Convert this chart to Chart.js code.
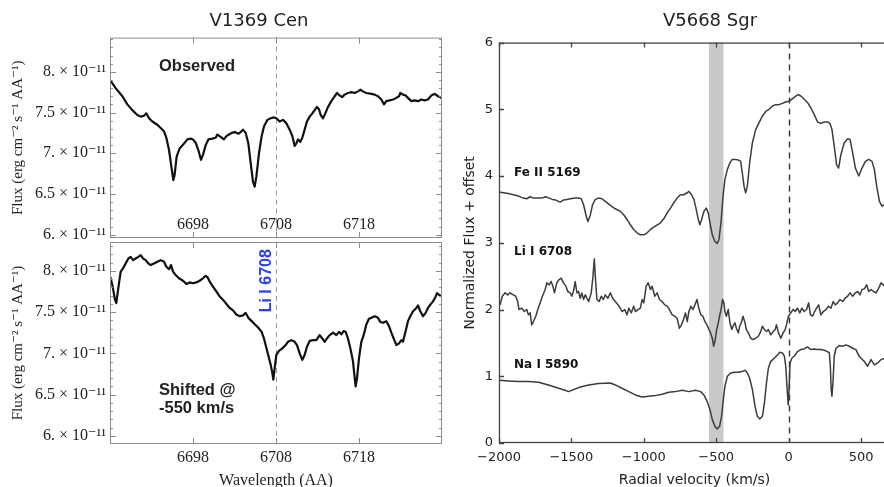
<!DOCTYPE html>
<html>
<head>
<meta charset="utf-8">
<script src="https://cdn.jsdelivr.net/npm/chart.js@4.4.1/dist/chart.umd.min.js"></script>
<style>
  html, body { margin: 0; padding: 0; background: #fff; overflow: hidden; width: 884px; height: 487px; }
  canvas { position: absolute; }
  #topChart { left: 0; top: 0; }
  #bottomChart { left: 0; top: 240px; }
  #rightChart { left: 450px; top: 0; }
</style>
</head>
<body>
<canvas id="topChart" width="518" height="240"></canvas>
<canvas id="bottomChart" width="450" height="260"></canvas>
<canvas id="rightChart" width="520" height="500"></canvas>
<script>
// ---- V1369 Cen, observed spectrum (flux in units of 1e-11) ----
const obsWave = [
  6688.08, 6688.68, 6689.49, 6690.09, 6690.69, 6691.29, 6691.70, 6692.10, 6692.38, 6692.70,
  6693.10, 6693.70, 6694.11, 6694.51, 6694.79, 6695.11, 6695.39, 6695.63, 6695.79, 6696.03,
  6696.39, 6696.92, 6697.32, 6697.72, 6698.00, 6698.32, 6698.64, 6698.96, 6699.20, 6699.53,
  6699.85, 6700.33, 6700.73, 6700.93, 6701.33, 6701.73, 6702.02, 6702.34, 6702.66, 6703.06,
  6703.46, 6703.74, 6704.02, 6704.35, 6704.67, 6704.95, 6705.23, 6705.43, 6705.63, 6705.95,
  6706.27, 6706.55, 6706.96, 6707.36, 6707.76, 6708.04, 6708.44, 6708.84, 6709.24, 6709.65,
  6709.97, 6710.25, 6710.45, 6710.65, 6710.93, 6711.17, 6711.45, 6711.73, 6712.06, 6712.38,
  6712.66, 6712.94, 6713.18, 6713.38, 6713.66, 6713.94, 6714.27, 6714.67, 6715.07, 6715.35,
  6715.67, 6715.99, 6716.27, 6716.67, 6717.08, 6717.48, 6717.88, 6718.16, 6718.48, 6718.88,
  6719.49, 6719.89, 6720.29, 6720.69, 6721.01, 6721.29, 6721.69, 6722.10, 6722.50, 6722.82,
  6722.98, 6723.30, 6723.62, 6723.90, 6724.30, 6724.71, 6725.11, 6725.51, 6725.91, 6726.31,
  6726.71, 6727.12, 6727.52, 6727.92, 6728.20
];
const obsFlux = [
  7.89, 7.80, 7.70, 7.60, 7.53, 7.47, 7.45, 7.46, 7.49, 7.43,
  7.39, 7.35, 7.31, 7.27, 7.19, 7.04, 6.84, 6.67, 6.74, 6.96,
  7.06, 7.12, 7.17, 7.18, 7.17, 7.13, 7.04, 6.92, 6.98, 7.10,
  7.17, 7.18, 7.19, 7.23, 7.20, 7.17, 7.21, 7.23, 7.25, 7.26,
  7.24, 7.26, 7.29, 7.25, 7.12, 6.88, 6.65, 6.59, 6.71, 7.00,
  7.21, 7.33, 7.41, 7.43, 7.44, 7.43, 7.39, 7.41, 7.37, 7.29,
  7.21, 7.09, 7.12, 7.17, 7.14, 7.19, 7.29, 7.39, 7.45, 7.49,
  7.53, 7.57, 7.54, 7.47, 7.43, 7.49, 7.57, 7.64, 7.70, 7.74,
  7.71, 7.69, 7.72, 7.74, 7.75, 7.74, 7.76, 7.78, 7.76, 7.74,
  7.73, 7.72, 7.70, 7.66, 7.60, 7.64, 7.65, 7.66, 7.68, 7.70,
  7.74, 7.72, 7.71, 7.68, 7.64, 7.65, 7.64, 7.66, 7.65, 7.66,
  7.71, 7.73, 7.70, 7.68, 7.62
];

// ---- V1369 Cen, shifted by -550 km/s ----
const shiftWave = [
  6687.96, 6688.28, 6688.60, 6688.76, 6689.00, 6689.29, 6689.57, 6689.89, 6690.21, 6690.49,
  6690.77, 6691.09, 6691.41, 6691.70, 6691.98, 6692.30, 6692.62, 6692.90, 6693.30, 6693.70,
  6694.11, 6694.51, 6694.79, 6695.11, 6695.35, 6695.59, 6695.91, 6696.31, 6696.80, 6697.20,
  6697.60, 6698.00, 6698.40, 6698.80, 6699.20, 6699.53, 6699.77, 6700.01, 6700.41, 6700.81,
  6701.21, 6701.61, 6702.02, 6702.42, 6702.82, 6703.22, 6703.62, 6704.02, 6704.35, 6704.67,
  6705.07, 6705.47, 6705.87, 6706.27, 6706.55, 6706.96, 6707.36, 6707.56, 6707.68, 6707.84,
  6708.04, 6708.36, 6708.76, 6709.16, 6709.45, 6709.85, 6710.25, 6710.53, 6710.85, 6711.17,
  6711.45, 6711.73, 6712.06, 6712.46, 6712.86, 6713.26, 6713.58, 6713.86, 6714.14, 6714.47,
  6714.87, 6715.27, 6715.59, 6715.87, 6716.15, 6716.39, 6716.67, 6716.96, 6717.28, 6717.48,
  6717.60, 6717.76, 6718.00, 6718.28, 6718.56, 6718.88, 6719.20, 6719.49, 6719.89, 6720.29,
  6720.57, 6720.89, 6721.29, 6721.61, 6721.90, 6722.18, 6722.50, 6722.82, 6723.10, 6723.30,
  6723.62, 6723.90, 6724.18, 6724.51, 6724.83, 6725.11, 6725.39, 6725.71, 6726.03, 6726.31,
  6726.59, 6726.92, 6727.24, 6727.40, 6727.64, 6727.92, 6728.20
];
const shiftFlux = [
  7.95, 7.83, 7.65, 7.61, 7.79, 7.99, 8.03, 8.09, 8.15, 8.17,
  8.13, 8.15, 8.17, 8.19, 8.15, 8.13, 8.09, 8.07, 8.09, 8.11,
  8.13, 8.11, 8.05, 8.02, 8.07, 7.99, 7.95, 7.91, 7.88, 7.84,
  7.86, 7.85, 7.86, 7.88, 7.91, 7.94, 7.92, 7.87, 7.81, 7.75,
  7.69, 7.65, 7.60, 7.55, 7.52, 7.47, 7.45, 7.46, 7.49, 7.43,
  7.39, 7.35, 7.31, 7.26, 7.18, 7.02, 6.86, 6.76, 6.68, 6.82,
  6.98, 7.03, 7.06, 7.10, 7.14, 7.16, 7.14, 7.10, 7.00, 6.92,
  6.98, 7.08, 7.15, 7.16, 7.16, 7.22, 7.18, 7.14, 7.18, 7.22,
  7.25, 7.22, 7.26, 7.23, 7.27, 7.26, 7.18, 7.06, 6.90, 6.70,
  6.60, 6.70, 6.94, 7.14, 7.22, 7.35, 7.42, 7.43, 7.45, 7.43,
  7.38, 7.37, 7.39, 7.33, 7.25, 7.18, 7.10, 7.12, 7.16, 7.14,
  7.27, 7.39, 7.45, 7.51, 7.54, 7.58, 7.51, 7.45, 7.49, 7.55,
  7.59, 7.63, 7.69, 7.73, 7.71, 7.69, 7.67
];

// ---- V5668 Sgr, normalized flux + offset vs radial velocity ----
const feVel = [
  -2000, -1970, -1935, -1901, -1866, -1832, -1808, -1785, -1762, -1739,
  -1705, -1677, -1654, -1631, -1608, -1578, -1555, -1531, -1508, -1474,
  -1451, -1432, -1416, -1400, -1386, -1370, -1354, -1335, -1312, -1289,
  -1266, -1231, -1197, -1162, -1139, -1116, -1093, -1070, -1047, -1024,
  -1000, -977, -954, -920, -885, -862, -839, -816, -793, -770,
  -747, -724, -700, -689, -670, -654, -638, -624, -613, -601,
  -585, -569, -555, -543, -527, -509, -493, -481, -467, -453,
  -440, -423, -405, -389, -370, -347, -331, -320, -308, -297,
  -285, -269, -250, -227, -204, -181, -158, -135, -112, -89,
  -66, -43, -20, 4, 27, 50, 68, 84, 108, 131,
  154, 177, 200, 223, 246, 269, 285, 299, 315, 331,
  345, 361, 384, 408, 424, 442, 461, 484, 507, 530,
  553, 576, 592, 608, 627, 645, 661
];
const feFlux = [
  3.76, 3.75, 3.74, 3.72, 3.70, 3.67, 3.66, 3.69, 3.67, 3.67,
  3.67, 3.69, 3.67, 3.65, 3.64, 3.61, 3.64, 3.65, 3.66, 3.67,
  3.67, 3.66, 3.57, 3.42, 3.32, 3.41, 3.57, 3.65, 3.67, 3.66,
  3.62, 3.56, 3.51, 3.47, 3.42, 3.35, 3.27, 3.20, 3.15, 3.12,
  3.12, 3.15, 3.20, 3.25, 3.30, 3.36, 3.45, 3.52, 3.60, 3.67,
  3.72, 3.72, 3.75, 3.77, 3.72, 3.65, 3.50, 3.35, 3.27, 3.35,
  3.47, 3.52, 3.45, 3.30, 3.12, 3.02, 2.99, 3.05, 3.30, 3.70,
  3.95, 4.10, 4.20, 4.25, 4.25, 4.24, 4.22, 4.05, 3.85, 3.75,
  3.85, 4.20, 4.50, 4.70, 4.80, 4.90, 4.97, 5.00, 5.05, 5.07,
  5.07, 5.09, 5.11, 5.12, 5.16, 5.20, 5.22, 5.20, 5.15, 5.10,
  5.02, 4.92, 4.81, 4.79, 4.81, 4.81, 4.79, 4.70, 4.45, 4.17,
  4.12, 4.32, 4.50, 4.56, 4.55, 4.35, 4.12, 4.00, 4.12, 4.22,
  4.25, 4.22, 4.10, 3.85, 3.62, 3.55, 3.57
];
const liVel = [
  -1993, -1977, -1958, -1940, -1924, -1901, -1885, -1871, -1862, -1843,
  -1825, -1808, -1797, -1785, -1774, -1762, -1746, -1732, -1716, -1700,
  -1681, -1670, -1654, -1640, -1628, -1617, -1601, -1585, -1571, -1555,
  -1538, -1525, -1508, -1497, -1483, -1474, -1462, -1451, -1439, -1428,
  -1416, -1404, -1393, -1381, -1363, -1351, -1342, -1335, -1324, -1308,
  -1294, -1280, -1266, -1248, -1231, -1215, -1197, -1178, -1162, -1151,
  -1132, -1116, -1104, -1086, -1070, -1058, -1040, -1024, -1012, -1000,
  -984, -970, -954, -943, -924, -908, -892, -874, -855, -839,
  -823, -804, -786, -770, -754, -740, -726, -712, -700, -689,
  -675, -661, -647, -633, -620, -606, -592, -578, -564, -550,
  -539, -527, -518, -509, -497, -486, -477, -465, -456, -447,
  -440, -430, -417, -405, -393, -384, -370, -361, -347, -338,
  -324, -315, -301, -292, -278, -262, -246, -227, -209, -193,
  -181, -167, -153, -140, -123, -107, -93, -84, -70, -54,
  -38, -24, -15, -1, 15, 31, 45, 61, 77, 91,
  107, 124, 138, 151, 165, 179, 193, 207, 223, 239,
  258, 276, 292, 308, 322, 338, 355, 373, 391, 408,
  424, 442, 461, 477, 493, 507, 523, 539, 553, 569,
  585, 604, 622, 638, 654, 664
];
const liFlux = [
  2.07, 2.20, 2.25, 2.22, 2.25, 2.22, 2.20, 2.12, 2.00, 2.02,
  1.97, 2.00, 1.92, 1.95, 1.77, 1.82, 1.90, 2.00, 2.10, 2.20,
  2.30, 2.40, 2.37, 2.42, 2.35, 2.25, 2.40, 2.45, 2.47, 2.40,
  2.35, 2.27, 2.25, 2.20, 2.30, 2.42, 2.25, 2.27, 2.17, 2.25,
  2.15, 2.22, 2.17, 2.12, 2.25, 2.50, 2.76, 2.50, 2.15, 2.12,
  2.20, 2.15, 2.22, 2.17, 2.25, 2.17, 2.12, 2.07, 2.02, 1.97,
  2.00, 1.92, 2.02, 1.95, 2.05, 1.97, 2.00, 2.02, 2.15, 2.10,
  2.35, 2.40, 2.30, 2.35, 2.20, 2.25, 2.15, 2.12, 2.07, 2.05,
  2.00, 1.92, 1.90, 1.87, 1.72, 1.77, 1.85, 1.95, 1.82, 1.97,
  2.05, 2.00, 2.07, 2.15, 2.02, 1.92, 1.90, 1.82, 1.77, 1.70,
  1.65, 1.57, 1.45, 1.52, 1.70, 1.80, 1.90, 2.02, 2.15, 2.10,
  1.97, 1.90, 2.00, 1.80, 1.70, 1.75, 1.80, 1.72, 1.65, 1.75,
  1.82, 1.90, 1.80, 1.70, 1.65, 1.57, 1.55, 1.57, 1.60, 1.67,
  1.75, 1.70, 1.67, 1.70, 1.62, 1.67, 1.70, 1.77, 1.65, 1.57,
  1.65, 1.70, 1.77, 1.90, 1.95, 2.00, 1.97, 2.02, 1.95, 2.02,
  1.97, 2.00, 2.10, 1.92, 1.90, 1.97, 2.02, 2.07, 1.92, 1.97,
  2.00, 2.05, 2.02, 2.12, 2.07, 2.10, 2.15, 2.12, 2.17, 2.20,
  2.25, 2.20, 2.25, 2.27, 2.22, 2.30, 2.31, 2.37, 2.27, 2.30,
  2.27, 2.25, 2.32, 2.40, 2.37, 2.35
];
const naVel = [
  -1993, -1935, -1866, -1797, -1728, -1658, -1589, -1543, -1520, -1485,
  -1439, -1381, -1312, -1231, -1197, -1151, -1104, -1058, -1012, -966,
  -920, -874, -827, -781, -735, -689, -643, -608, -585, -562,
  -543, -527, -509, -493, -477, -463, -451, -440, -423, -400,
  -377, -347, -324, -301, -285, -269, -250, -232, -216, -199,
  -181, -167, -153, -140, -124, -100, -77, -61, -43, -29,
  -20, -10, -3, 3, 10, 22, 38, 61, 84, 107,
  130, 153, 177, 200, 223, 246, 269, 281, 288, 294,
  299, 306, 315, 327, 350, 373, 396, 419, 442, 465,
  484, 500, 523, 546, 569, 592, 615, 638, 664
];
const naFlux = [
  0.94, 0.93, 0.92, 0.92, 0.91, 0.87, 0.82, 0.79, 0.77, 0.80,
  0.84, 0.87, 0.89, 0.90, 0.87, 0.82, 0.77, 0.72, 0.69, 0.70,
  0.71, 0.73, 0.76, 0.77, 0.79, 0.77, 0.79, 0.77, 0.72, 0.62,
  0.50, 0.35, 0.25, 0.21, 0.25, 0.40, 0.65, 0.85, 1.00, 1.05,
  1.06, 1.06, 1.07, 1.09, 1.05, 0.97, 0.80, 0.55, 0.40, 0.36,
  0.40, 0.60, 0.90, 1.12, 1.22, 1.27, 1.32, 1.36, 1.35, 1.30,
  1.15, 0.80, 0.57, 0.80, 1.20, 1.27, 1.30, 1.37, 1.40, 1.41,
  1.44, 1.40, 1.41, 1.40, 1.40, 1.39, 1.37, 1.35, 1.15, 0.80,
  0.70, 0.90, 1.30, 1.42, 1.46, 1.45, 1.47, 1.45, 1.42, 1.40,
  1.31, 1.27, 1.22, 1.15, 1.25, 1.17, 1.20, 1.25, 1.27
];

// ---- ticks and markers ----
const waveTicks = [6698, 6708, 6718];
const fluxTicks = [6, 6.5, 7, 7.5, 8];
const fluxMinor = [6.1, 6.2, 6.3, 6.4, 6.6, 6.7, 6.8, 6.9, 7.1, 7.2, 7.3, 7.4, 7.6, 7.7, 7.8, 7.9, 8.1, 8.2, 8.3, 8.4];
const velTicks = [-2000, -1500, -1000, -500, 0, 500];
const normTicks = [0, 1, 2, 3, 4, 5, 6];
const liLine = 6708;
const shiftBand = [-550, -450];

const serif = "'Liberation Serif', 'DejaVu Serif', serif";
const sans = "'DejaVu Sans', sans-serif";
const boldSans = "'Liberation Sans', Arial, sans-serif";
Chart.defaults.font.family = sans;
Chart.defaults.color = '#222';

const pts = (xs, ys) => xs.map((v, i) => ({x: v, y: ys[i]}));
const fluxLabel = v => (Number.isInteger(v) ? v + '.' : String(v)) + ' \u00d7 10\u207b\u00b9\u00b9';
const setTicks = list => s => { s.ticks = list.map(v => ({value: v})); };
// fixed axis sizes, and no extra room for end labels
const fixWidth = w => s => { s.width = w; s.paddingTop = 0; s.paddingBottom = 0; };
const fixHeight = h => s => { s.height = h; s.paddingLeft = 0; s.paddingRight = 0; };
// empty right-hand axis that only reserves space
const spacer = w => ({
  position: 'right', display: true, afterFit: fixWidth(w),
  ticks: { display: false }, grid: { display: false, drawTicks: false }, border: { display: false }
});

function framePlugin(o) {
  return {
    id: 'frame',
    beforeDatasetsDraw(chart) {
      const {ctx, chartArea: a, scales: {x}} = chart;
      ctx.save();
      if (o.band) {
        const x0 = x.getPixelForValue(o.band[0]), x1 = x.getPixelForValue(o.band[1]);
        ctx.fillStyle = o.bandColor;
        ctx.fillRect(x0, a.top, x1 - x0, a.bottom - a.top);
      }
      if (o.marker !== undefined) {
        const px = Math.round(x.getPixelForValue(o.marker)) + 0.5;
        ctx.strokeStyle = o.markerColor;
        ctx.lineWidth = o.markerWidth;
        ctx.setLineDash(o.markerDash);
        ctx.beginPath();
        ctx.moveTo(px, a.top);
        ctx.lineTo(px, a.bottom);
        ctx.stroke();
      }
      ctx.restore();
    },
    afterDatasetsDraw(chart) {
      const {ctx, chartArea: a, scales: {x, y}} = chart;
      ctx.save();
      ctx.strokeStyle = o.color;
      ctx.lineWidth = o.width;
      ctx.strokeRect(a.left + 0.5, a.top + 0.5, a.right - a.left - 1, a.bottom - a.top - 1);
      ctx.beginPath();
      (o.xTicks || []).forEach(v => {
        const px = Math.round(x.getPixelForValue(v)) + 0.5;
        ctx.moveTo(px, a.bottom); ctx.lineTo(px, a.bottom - o.len);
        ctx.moveTo(px, a.top); ctx.lineTo(px, a.top + o.len);
      });
      const yt = (list, len) => list.forEach(v => {
        const py = Math.round(y.getPixelForValue(v)) + 0.5;
        ctx.moveTo(a.left, py); ctx.lineTo(a.left + len, py);
        ctx.moveTo(a.right, py); ctx.lineTo(a.right - len, py);
      });
      yt(o.yTicks || [], o.len);
      yt(o.yMinor || [], o.len / 2);
      ctx.stroke();
      (o.notes || []).forEach(n => {
        ctx.save();
        ctx.font = n.font;
        ctx.fillStyle = n.color || '#222';
        ctx.textAlign = n.align || 'left';
        ctx.textBaseline = 'middle';
        ctx.translate(x.getPixelForValue(n.x), y.getPixelForValue(n.y));
        if (n.rotate) ctx.rotate(n.rotate);
        ctx.fillText(n.text, 0, 0);
        ctx.restore();
      });
      ctx.restore();
    }
  };
}

const baseOpts = {
  responsive: false,
  animation: false,
  devicePixelRatio: 1,
  elements: { point: { radius: 0 }, line: { tension: 0, borderJoinStyle: 'round' } },
  plugins: { legend: { display: false }, tooltip: { enabled: false } }
};

const fluxAxis = (min, max) => ({
  position: 'left',
  min: min, max: max,
  afterBuildTicks: setTicks(fluxTicks),
  afterFit: fixWidth(110),
  ticks: { font: { family: serif, size: 16 }, color: '#222', padding: 4, callback: fluxLabel },
  grid: { display: false, drawTicks: false },
  border: { display: false },
  title: { display: true, text: 'Flux (erg cm\u207b\u00b2 s\u207b\u00b9 AA\u207b\u00b9)', font: { family: serif, size: 15 }, color: '#222', padding: { top: 9, bottom: 0 } }
});

const leftFrame = extra => Object.assign({
  color: '#8c8c8c', width: 1, len: 6,
  xTicks: waveTicks, yTicks: fluxTicks, yMinor: fluxMinor,
  marker: liLine, markerColor: '#9a9a9a', markerWidth: 1, markerDash: [5, 4]
}, extra);

// top-left: observed
new Chart(document.getElementById('topChart'), {
  type: 'line',
  data: { datasets: [{ data: pts(obsWave, obsFlux), borderColor: '#111', borderWidth: 2.2 }] },
  options: Object.assign({}, baseOpts, {
    layout: { padding: { left: 0, right: 0, top: 0, bottom: 2 } },
    plugins: Object.assign({}, baseOpts.plugins, {
      title: { display: true, text: 'V1369 Cen', font: { family: sans, size: 18, weight: 'normal' }, color: '#222', padding: { top: 11, bottom: 5 } }
    }),
    scales: {
      x: { type: 'linear', min: 6688, max: 6728, display: false },
      y: fluxAxis(5.96, 8.42),
      pad: spacer(76)
    }
  }),
  plugins: [framePlugin(leftFrame({
    notes: [
      { text: 'Observed', x: 6693.9, y: 8.07, font: 'bold 16.5px ' + boldSans, color: '#222' },
      { text: '6698', x: 6698, y: 6.12, font: '16px ' + serif, align: 'center' },
      { text: '6708', x: 6708, y: 6.12, font: '16px ' + serif, align: 'center' },
      { text: '6718', x: 6718, y: 6.12, font: '16px ' + serif, align: 'center' }
    ]
  }))]
});

// bottom-left: shifted
new Chart(document.getElementById('bottomChart'), {
  type: 'line',
  data: { datasets: [{ data: pts(shiftWave, shiftFlux), borderColor: '#111', borderWidth: 2.2 }] },
  options: Object.assign({}, baseOpts, {
    layout: { padding: { left: 0, right: 8, top: 2, bottom: 0 } },
    scales: {
      x: {
        type: 'linear', min: 6688, max: 6728,
        afterBuildTicks: setTicks(waveTicks),
        afterFit: fixHeight(56),
        ticks: { font: { family: serif, size: 16 }, color: '#222', padding: 4, autoSkip: false, maxRotation: 0, callback: v => String(v) },
        grid: { display: false, drawTicks: false },
        border: { display: false },
        title: { display: true, text: 'Wavelength (AA)', font: { family: serif, size: 16 }, color: '#222', padding: { top: 0, bottom: 10 } }
      },
      y: fluxAxis(5.90, 8.35)
    }
  }),
  plugins: [framePlugin(leftFrame({
    notes: [
      { text: 'Li I 6708', x: 6706.9, y: 7.88, font: 'bold 16px ' + boldSans, color: '#2a3ff0', align: 'center', rotate: -Math.PI / 2 },
      { text: 'Shifted @', x: 6693.9, y: 6.55, font: 'bold 16.5px ' + boldSans, color: '#222' },
      { text: '-550 km/s', x: 6693.9, y: 6.33, font: 'bold 16.5px ' + boldSans, color: '#222' }
    ]
  }))]
});

// right: V5668 Sgr
const lineStyle = { borderColor: '#3c3c3c', borderWidth: 1.5 };
const labelFont = 'bold 12px ' + sans;
new Chart(document.getElementById('rightChart'), {
  type: 'line',
  data: {
    datasets: [
      Object.assign({ label: 'Fe II 5169', data: pts(feVel, feFlux) }, lineStyle),
      Object.assign({ label: 'Li I 6708', data: pts(liVel, liFlux) }, lineStyle),
      Object.assign({ label: 'Na I 5890', data: pts(naVel, naFlux) }, lineStyle)
    ]
  },
  options: Object.assign({}, baseOpts, {
    layout: { padding: { left: 0, right: 0, top: 0, bottom: 0 } },
    plugins: Object.assign({}, baseOpts.plugins, {
      title: { display: true, text: 'V5668 Sgr', font: { family: sans, size: 18, weight: 'normal' }, color: '#222', padding: { top: 11, bottom: 10 } }
    }),
    scales: {
      x: {
        type: 'linear', min: -2000, max: 700,
        afterBuildTicks: setTicks(velTicks),
        afterFit: fixHeight(57),
        ticks: { font: { size: 13 }, color: '#222', padding: 7, autoSkip: false, maxRotation: 0, callback: v => String(v).replace('-', '\u2212') },
        grid: { display: false, drawTicks: false },
        border: { display: false },
        title: { display: true, text: 'Radial velocity (km/s)', font: { size: 14 }, color: '#222', padding: { top: 0, bottom: 11 } }
      },
      y: {
        position: 'left',
        min: 0, max: 6,
        afterBuildTicks: setTicks(normTicks),
        afterFit: fixWidth(49),
        ticks: { font: { size: 13 }, color: '#222', padding: 6, callback: v => String(v) },
        grid: { display: false, drawTicks: false },
        border: { display: false },
        title: { display: true, text: 'Normalized Flux + offset', font: { size: 14 }, color: '#222', padding: { top: 12, bottom: 0 } }
      },
      pad: spacer(80)
    }
  }),
  plugins: [framePlugin({
    color: '#444', width: 1.3, len: 5,
    xTicks: velTicks, yTicks: normTicks,
    band: shiftBand, bandColor: '#c9c9c9',
    marker: 0, markerColor: '#333', markerWidth: 1.4, markerDash: [6, 5],
    notes: [
      { text: 'Fe II 5169', x: -1896, y: 4.05, font: labelFont, color: '#111' },
      { text: 'Li I 6708', x: -1896, y: 2.87, font: labelFont, color: '#111' },
      { text: 'Na I 5890', x: -1896, y: 1.17, font: labelFont, color: '#111' }
    ]
  })]
});
</script>
</body>
</html>
